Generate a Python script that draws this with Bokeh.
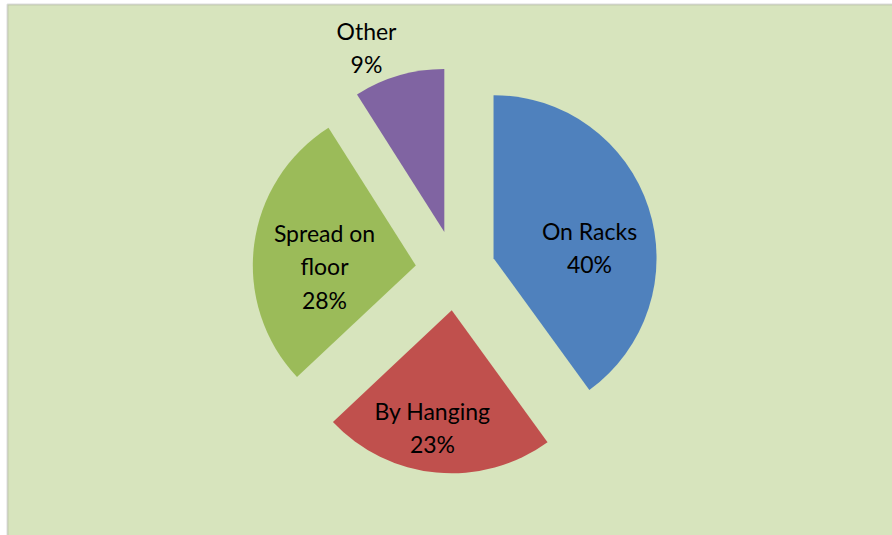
import numpy as np
from bokeh.plotting import figure
from bokeh.models import ColumnDataSource, Range1d, BoxAnnotation
from bokeh.core.properties import value
from bokeh.embed import file_html
from bokeh.resources import INLINE

# ---- data ----
categories = ["On Racks", "By Hanging", "Spread on floor", "Other"]
percents = [40, 23, 28, 9]
label_text = ["On Racks\n40%", "By Hanging\n23%", "Spread on\nfloor\n28%", "Other\n9%"]
colors = ["#4F81BD", "#C0504D", "#9BBB59", "#8064A2"]

# ---- layout (pixels == data units, y measured from bottom) ----
W, H = 892, 535
cx, cy = 455, H - 270
radius = 163
explode = 40
label_x = [589, 432, 324, 366]
label_y = [H - 247, H - 427, H - 266, H - 47]

vals = np.array(percents, dtype=float)
frac = vals / vals.sum()
end_cw = np.cumsum(frac) * 2 * np.pi           # clockwise from top
start_cw = end_cw - frac * 2 * np.pi
mid_cw = (start_cw + end_cw) / 2
xs = cx + explode * np.sin(mid_cw)
ys = cy + explode * np.cos(mid_cw)
start_angle = np.pi / 2 - end_cw
end_angle = np.pi / 2 - start_cw

src = ColumnDataSource(dict(x=xs, y=ys, start=start_angle, end=end_angle,
                            color=colors, cat=categories))
lsrc = ColumnDataSource(dict(x=label_x, y=label_y, text=label_text))

bg = "#D7E4BD"
p = figure(width=W, height=H, x_range=Range1d(0, W), y_range=Range1d(0, H),
           min_border=0, toolbar_location=None, output_backend="svg",
           x_axis_location=None, y_axis_location=None,
           background_fill_color="white", border_fill_color="white",
           outline_line_color=None)
p.grid.grid_line_color = None

p.add_layout(BoxAnnotation(left=7, right=W + 20, top=H - 4, bottom=-20,
                           fill_color=bg, fill_alpha=1.0,
                           line_color="#8C8C8C", line_width=2, level="underlay"))

p.wedge(x="x", y="y", radius=radius, start_angle="start", end_angle="end",
        fill_color="color", line_color=None, source=src)

p.text(x="x", y="y", text="text", source=lsrc, text_align="center",
       text_baseline="middle", text_font=value("Lato"), text_font_size="23px",
       text_color="#000000", text_line_height=1.2)

open("out.html", "w").write(file_html(p, INLINE))
